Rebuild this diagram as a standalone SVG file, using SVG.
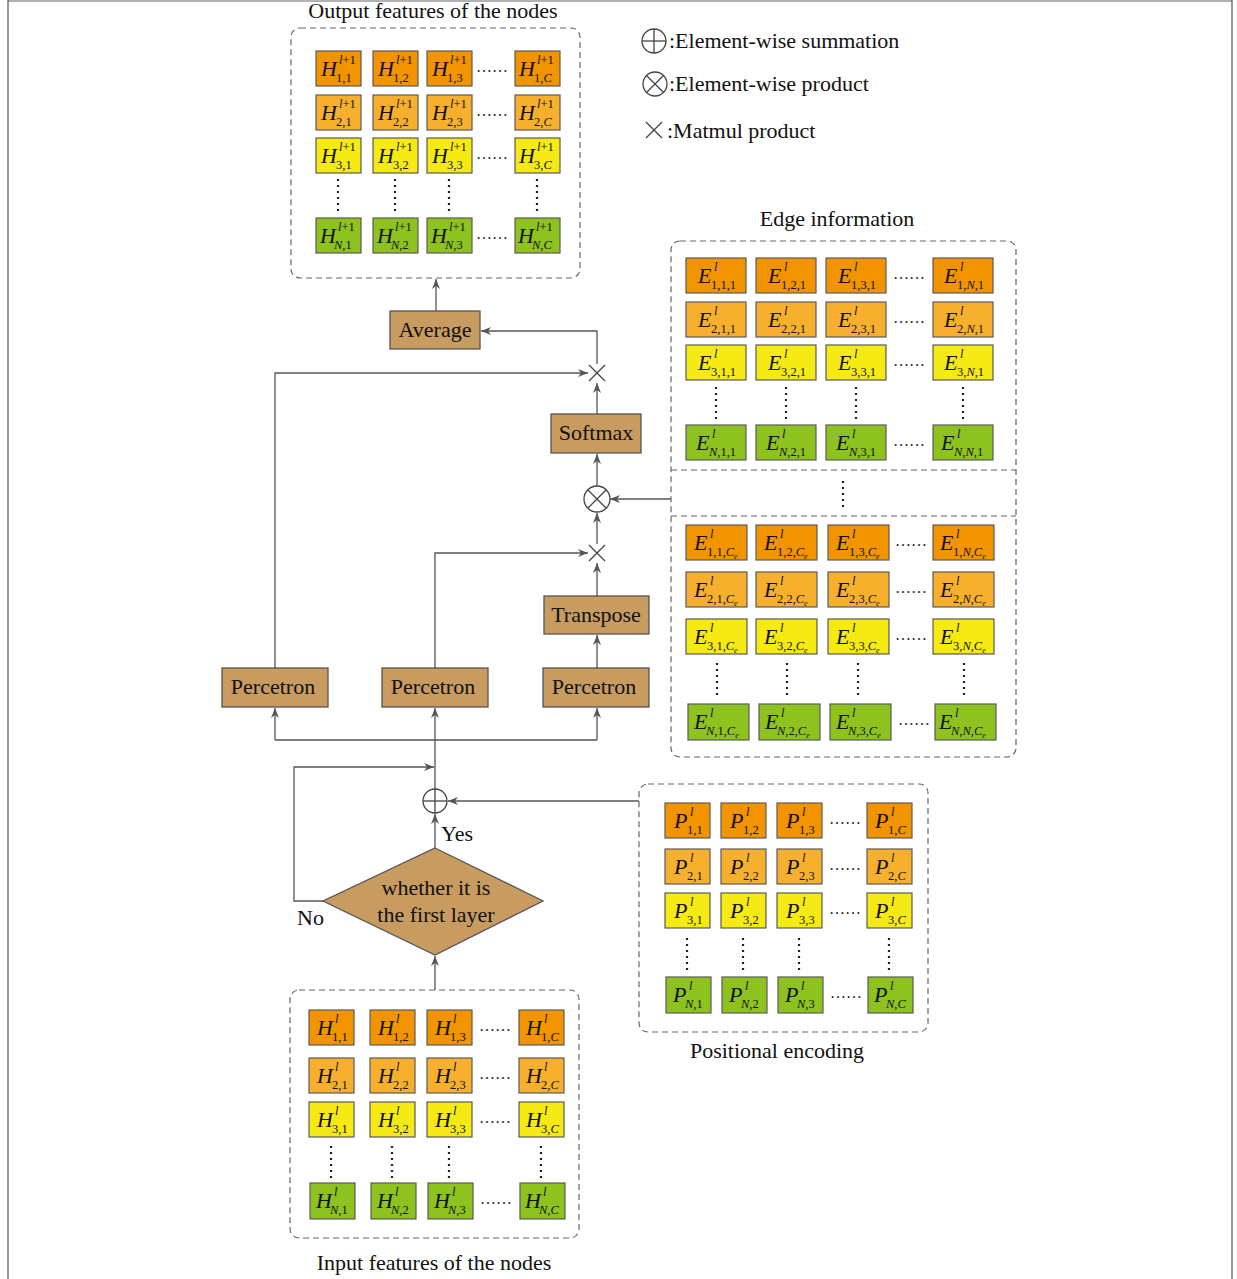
<svg xmlns="http://www.w3.org/2000/svg" width="1237" height="1279" viewBox="0 0 1237 1279">
<defs>
<marker id="ah" markerUnits="userSpaceOnUse" markerWidth="11" markerHeight="8" refX="10" refY="4" orient="auto">
<path d="M0,0 L10,4 L0,8 L3,4 Z" fill="#555"/>
</marker>
<style>
.cell{stroke:#5a5a5a;stroke-width:1.2}
.c1{fill:#F29400}.c2{fill:#F7B02E}.c3{fill:#F5EA14}.c4{fill:#8DC21F}
.lab{font-family:"Liberation Serif",serif;font-size:22px;fill:#111}
.it{font-style:italic}
.sm{font-size:12.5px}
.xs{font-size:8px}
.txt{font-family:"Liberation Serif",serif;font-size:22px;fill:#111}
.btxt{font-family:"Liberation Serif",serif;font-size:22px;fill:#111;text-anchor:middle}
.box{fill:#C89B60;stroke:#555;stroke-width:1.3}
.dash{fill:none;stroke:#666;stroke-width:1.2;stroke-dasharray:6 4}
.ln{fill:none;stroke:#555;stroke-width:1.3}
.arr{marker-end:url(#ah)}
.vd{stroke:#222;stroke-width:2.2;stroke-dasharray:2 4}
.ell{font-family:"Liberation Serif",serif;font-size:16px;fill:#222;text-anchor:middle}
.sym{fill:#fff;stroke:#444;stroke-width:1.3}
.symx{stroke:#444;stroke-width:1.3}
</style>
</defs>
<rect width="1237" height="1279" fill="#fff"/>
<g id="frame">
<line x1="8" y1="1" x2="1232" y2="1" stroke="#999" stroke-width="1.5"/>
<line x1="8" y1="0" x2="8" y2="1279" stroke="#555" stroke-width="1.2"/>
<line x1="1232" y1="0" x2="1232" y2="1279" stroke="#555" stroke-width="1.2"/>
</g>

<g id="legend">
<circle class="sym" cx="654" cy="41" r="12"/><line class="symx" x1="642" y1="41" x2="666" y2="41"/><line class="symx" x1="654" y1="29" x2="654" y2="53"/>
<text class="txt" x="669" y="48">:Element-wise summation</text>
<circle class="sym" cx="655" cy="84" r="12"/><line class="symx" x1="646.5" y1="75.5" x2="663.5" y2="92.5"/><line class="symx" x1="663.5" y1="75.5" x2="646.5" y2="92.5"/>
<text class="txt" x="669" y="91">:Element-wise product</text>
<line class="symx" x1="646" y1="122" x2="662" y2="138"/><line class="symx" x1="662" y1="122" x2="646" y2="138"/>
<text class="txt" x="667" y="138">:Matmul product</text>
</g>

<g id="output-features">
<text class="txt" x="433" y="18" text-anchor="middle">Output features of the nodes</text>
<rect class="dash" x="291" y="28" width="289" height="250" rx="9"/>
<rect class="cell c1" x="316" y="51" width="45" height="35"/><text class="lab"><tspan class="it" x="321" y="76">H</tspan><tspan class="sm" x="339" y="64"><tspan class="it">l</tspan>+1</tspan><tspan class="sm" x="336" y="82">1,1</tspan></text>
<rect class="cell c1" x="373" y="51" width="45" height="35"/><text class="lab"><tspan class="it" x="378" y="76">H</tspan><tspan class="sm" x="396" y="64"><tspan class="it">l</tspan>+1</tspan><tspan class="sm" x="393" y="82">1,2</tspan></text>
<rect class="cell c1" x="427" y="51" width="45" height="35"/><text class="lab"><tspan class="it" x="432" y="76">H</tspan><tspan class="sm" x="450" y="64"><tspan class="it">l</tspan>+1</tspan><tspan class="sm" x="447" y="82">1,3</tspan></text>
<rect class="cell c1" x="515" y="51" width="45" height="35"/><text class="lab"><tspan class="it" x="519" y="76">H</tspan><tspan class="sm" x="537" y="64"><tspan class="it">l</tspan>+1</tspan><tspan class="sm" x="534" y="82">1,<tspan class="it">C</tspan></tspan></text>
<text class="ell" x="492" y="72">……</text>
<rect class="cell c2" x="316" y="95" width="45" height="35"/><text class="lab"><tspan class="it" x="321" y="120">H</tspan><tspan class="sm" x="339" y="108"><tspan class="it">l</tspan>+1</tspan><tspan class="sm" x="336" y="126">2,1</tspan></text>
<rect class="cell c2" x="373" y="95" width="45" height="35"/><text class="lab"><tspan class="it" x="378" y="120">H</tspan><tspan class="sm" x="396" y="108"><tspan class="it">l</tspan>+1</tspan><tspan class="sm" x="393" y="126">2,2</tspan></text>
<rect class="cell c2" x="427" y="95" width="45" height="35"/><text class="lab"><tspan class="it" x="432" y="120">H</tspan><tspan class="sm" x="450" y="108"><tspan class="it">l</tspan>+1</tspan><tspan class="sm" x="447" y="126">2,3</tspan></text>
<rect class="cell c2" x="515" y="95" width="45" height="35"/><text class="lab"><tspan class="it" x="519" y="120">H</tspan><tspan class="sm" x="537" y="108"><tspan class="it">l</tspan>+1</tspan><tspan class="sm" x="534" y="126">2,<tspan class="it">C</tspan></tspan></text>
<text class="ell" x="492" y="116">……</text>
<rect class="cell c3" x="316" y="138" width="45" height="35"/><text class="lab"><tspan class="it" x="321" y="163">H</tspan><tspan class="sm" x="339" y="151"><tspan class="it">l</tspan>+1</tspan><tspan class="sm" x="336" y="169">3,1</tspan></text>
<rect class="cell c3" x="373" y="138" width="45" height="35"/><text class="lab"><tspan class="it" x="378" y="163">H</tspan><tspan class="sm" x="396" y="151"><tspan class="it">l</tspan>+1</tspan><tspan class="sm" x="393" y="169">3,2</tspan></text>
<rect class="cell c3" x="427" y="138" width="45" height="35"/><text class="lab"><tspan class="it" x="432" y="163">H</tspan><tspan class="sm" x="450" y="151"><tspan class="it">l</tspan>+1</tspan><tspan class="sm" x="447" y="169">3,3</tspan></text>
<rect class="cell c3" x="515" y="138" width="45" height="35"/><text class="lab"><tspan class="it" x="519" y="163">H</tspan><tspan class="sm" x="537" y="151"><tspan class="it">l</tspan>+1</tspan><tspan class="sm" x="534" y="169">3,<tspan class="it">C</tspan></tspan></text>
<text class="ell" x="492" y="159">……</text>
<line class="vd" x1="338" y1="179" x2="338" y2="211"/><line class="vd" x1="395" y1="179" x2="395" y2="211"/><line class="vd" x1="449" y1="179" x2="449" y2="211"/><line class="vd" x1="537" y1="179" x2="537" y2="211"/>
<rect class="cell c4" x="316" y="218" width="45" height="35"/><text class="lab"><tspan class="it" x="320" y="243">H</tspan><tspan class="sm" x="338" y="231"><tspan class="it">l</tspan>+1</tspan><tspan class="sm" x="334" y="249"><tspan class="it">N</tspan>,1</tspan></text>
<rect class="cell c4" x="373" y="218" width="45" height="35"/><text class="lab"><tspan class="it" x="377" y="243">H</tspan><tspan class="sm" x="395" y="231"><tspan class="it">l</tspan>+1</tspan><tspan class="sm" x="391" y="249"><tspan class="it">N</tspan>,2</tspan></text>
<rect class="cell c4" x="427" y="218" width="45" height="35"/><text class="lab"><tspan class="it" x="431" y="243">H</tspan><tspan class="sm" x="449" y="231"><tspan class="it">l</tspan>+1</tspan><tspan class="sm" x="445" y="249"><tspan class="it">N</tspan>,3</tspan></text>
<rect class="cell c4" x="515" y="218" width="45" height="35"/><text class="lab"><tspan class="it" x="518" y="243">H</tspan><tspan class="sm" x="536" y="231"><tspan class="it">l</tspan>+1</tspan><tspan class="sm" x="532" y="249"><tspan class="it">N</tspan>,<tspan class="it">C</tspan></tspan></text>
<text class="ell" x="492" y="239">……</text>
</g>

<g id="edge-information">
<text class="txt" x="837" y="226" text-anchor="middle">Edge information</text>
<rect class="dash" x="671" y="241" width="345" height="516" rx="9"/>
<line class="dash" x1="671" y1="470" x2="1016" y2="470"/>
<line class="dash" x1="671" y1="516" x2="1016" y2="516"/>
<line class="vd" x1="843" y1="481" x2="843" y2="511"/>
<rect class="cell c1" x="686" y="258" width="60" height="35"/><text class="lab"><tspan class="it" x="698" y="283">E</tspan><tspan class="sm it" x="714" y="271">l</tspan><tspan class="sm" x="711" y="289">1,1,1</tspan></text>
<rect class="cell c1" x="756" y="258" width="60" height="35"/><text class="lab"><tspan class="it" x="768" y="283">E</tspan><tspan class="sm it" x="784" y="271">l</tspan><tspan class="sm" x="781" y="289">1,2,1</tspan></text>
<rect class="cell c1" x="826" y="258" width="60" height="35"/><text class="lab"><tspan class="it" x="838" y="283">E</tspan><tspan class="sm it" x="854" y="271">l</tspan><tspan class="sm" x="851" y="289">1,3,1</tspan></text>
<rect class="cell c1" x="933" y="258" width="60" height="35"/><text class="lab"><tspan class="it" x="944" y="283">E</tspan><tspan class="sm it" x="960" y="271">l</tspan><tspan class="sm" x="957" y="289">1,<tspan class="it">N</tspan>,1</tspan></text>
<text class="ell" x="909" y="279">……</text>
<rect class="cell c2" x="686" y="302" width="60" height="35"/><text class="lab"><tspan class="it" x="698" y="327">E</tspan><tspan class="sm it" x="714" y="315">l</tspan><tspan class="sm" x="711" y="333">2,1,1</tspan></text>
<rect class="cell c2" x="756" y="302" width="60" height="35"/><text class="lab"><tspan class="it" x="768" y="327">E</tspan><tspan class="sm it" x="784" y="315">l</tspan><tspan class="sm" x="781" y="333">2,2,1</tspan></text>
<rect class="cell c2" x="826" y="302" width="60" height="35"/><text class="lab"><tspan class="it" x="838" y="327">E</tspan><tspan class="sm it" x="854" y="315">l</tspan><tspan class="sm" x="851" y="333">2,3,1</tspan></text>
<rect class="cell c2" x="933" y="302" width="60" height="35"/><text class="lab"><tspan class="it" x="944" y="327">E</tspan><tspan class="sm it" x="960" y="315">l</tspan><tspan class="sm" x="957" y="333">2,<tspan class="it">N</tspan>,1</tspan></text>
<text class="ell" x="909" y="323">……</text>
<rect class="cell c3" x="686" y="345" width="60" height="35"/><text class="lab"><tspan class="it" x="698" y="370">E</tspan><tspan class="sm it" x="714" y="358">l</tspan><tspan class="sm" x="711" y="376">3,1,1</tspan></text>
<rect class="cell c3" x="756" y="345" width="60" height="35"/><text class="lab"><tspan class="it" x="768" y="370">E</tspan><tspan class="sm it" x="784" y="358">l</tspan><tspan class="sm" x="781" y="376">3,2,1</tspan></text>
<rect class="cell c3" x="826" y="345" width="60" height="35"/><text class="lab"><tspan class="it" x="838" y="370">E</tspan><tspan class="sm it" x="854" y="358">l</tspan><tspan class="sm" x="851" y="376">3,3,1</tspan></text>
<rect class="cell c3" x="933" y="345" width="60" height="35"/><text class="lab"><tspan class="it" x="944" y="370">E</tspan><tspan class="sm it" x="960" y="358">l</tspan><tspan class="sm" x="957" y="376">3,<tspan class="it">N</tspan>,1</tspan></text>
<text class="ell" x="909" y="366">……</text>
<line class="vd" x1="716" y1="387" x2="716" y2="419"/><line class="vd" x1="786" y1="387" x2="786" y2="419"/><line class="vd" x1="856" y1="387" x2="856" y2="419"/><line class="vd" x1="963" y1="387" x2="963" y2="419"/>
<rect class="cell c4" x="686" y="425" width="60" height="35"/><text class="lab"><tspan class="it" x="696" y="450">E</tspan><tspan class="sm it" x="712" y="438">l</tspan><tspan class="sm" x="709" y="456"><tspan class="it">N</tspan>,1,1</tspan></text>
<rect class="cell c4" x="756" y="425" width="60" height="35"/><text class="lab"><tspan class="it" x="766" y="450">E</tspan><tspan class="sm it" x="782" y="438">l</tspan><tspan class="sm" x="779" y="456"><tspan class="it">N</tspan>,2,1</tspan></text>
<rect class="cell c4" x="826" y="425" width="60" height="35"/><text class="lab"><tspan class="it" x="836" y="450">E</tspan><tspan class="sm it" x="852" y="438">l</tspan><tspan class="sm" x="849" y="456"><tspan class="it">N</tspan>,3,1</tspan></text>
<rect class="cell c4" x="933" y="425" width="60" height="35"/><text class="lab"><tspan class="it" x="941" y="450">E</tspan><tspan class="sm it" x="957" y="438">l</tspan><tspan class="sm" x="954" y="456"><tspan class="it">N</tspan>,<tspan class="it">N</tspan>,1</tspan></text>
<text class="ell" x="909" y="446">……</text>

<rect class="cell c1" x="686" y="525" width="61" height="35"/><text class="lab"><tspan class="it" x="694" y="550">E</tspan><tspan class="sm it" x="710" y="538">l</tspan><tspan class="sm" x="707" y="556">1,1,<tspan class="it">C</tspan><tspan class="xs it" dy="3">e</tspan></tspan></text>
<rect class="cell c1" x="756" y="525" width="61" height="35"/><text class="lab"><tspan class="it" x="764" y="550">E</tspan><tspan class="sm it" x="780" y="538">l</tspan><tspan class="sm" x="777" y="556">1,2,<tspan class="it">C</tspan><tspan class="xs it" dy="3">e</tspan></tspan></text>
<rect class="cell c1" x="828" y="525" width="61" height="35"/><text class="lab"><tspan class="it" x="836" y="550">E</tspan><tspan class="sm it" x="852" y="538">l</tspan><tspan class="sm" x="849" y="556">1,3,<tspan class="it">C</tspan><tspan class="xs it" dy="3">e</tspan></tspan></text>
<rect class="cell c1" x="933" y="525" width="61" height="35"/><text class="lab"><tspan class="it" x="940" y="550">E</tspan><tspan class="sm it" x="956" y="538">l</tspan><tspan class="sm" x="953" y="556">1,<tspan class="it">N</tspan>,<tspan class="it">C</tspan><tspan class="xs it" dy="3">e</tspan></tspan></text>
<text class="ell" x="911" y="546">……</text>
<rect class="cell c2" x="686" y="572" width="61" height="35"/><text class="lab"><tspan class="it" x="694" y="597">E</tspan><tspan class="sm it" x="710" y="585">l</tspan><tspan class="sm" x="707" y="603">2,1,<tspan class="it">C</tspan><tspan class="xs it" dy="3">e</tspan></tspan></text>
<rect class="cell c2" x="756" y="572" width="61" height="35"/><text class="lab"><tspan class="it" x="764" y="597">E</tspan><tspan class="sm it" x="780" y="585">l</tspan><tspan class="sm" x="777" y="603">2,2,<tspan class="it">C</tspan><tspan class="xs it" dy="3">e</tspan></tspan></text>
<rect class="cell c2" x="828" y="572" width="61" height="35"/><text class="lab"><tspan class="it" x="836" y="597">E</tspan><tspan class="sm it" x="852" y="585">l</tspan><tspan class="sm" x="849" y="603">2,3,<tspan class="it">C</tspan><tspan class="xs it" dy="3">e</tspan></tspan></text>
<rect class="cell c2" x="933" y="572" width="61" height="35"/><text class="lab"><tspan class="it" x="940" y="597">E</tspan><tspan class="sm it" x="956" y="585">l</tspan><tspan class="sm" x="953" y="603">2,<tspan class="it">N</tspan>,<tspan class="it">C</tspan><tspan class="xs it" dy="3">e</tspan></tspan></text>
<text class="ell" x="911" y="593">……</text>
<rect class="cell c3" x="686" y="619" width="61" height="35"/><text class="lab"><tspan class="it" x="694" y="644">E</tspan><tspan class="sm it" x="710" y="632">l</tspan><tspan class="sm" x="707" y="650">3,1,<tspan class="it">C</tspan><tspan class="xs it" dy="3">e</tspan></tspan></text>
<rect class="cell c3" x="756" y="619" width="61" height="35"/><text class="lab"><tspan class="it" x="764" y="644">E</tspan><tspan class="sm it" x="780" y="632">l</tspan><tspan class="sm" x="777" y="650">3,2,<tspan class="it">C</tspan><tspan class="xs it" dy="3">e</tspan></tspan></text>
<rect class="cell c3" x="828" y="619" width="61" height="35"/><text class="lab"><tspan class="it" x="836" y="644">E</tspan><tspan class="sm it" x="852" y="632">l</tspan><tspan class="sm" x="849" y="650">3,3,<tspan class="it">C</tspan><tspan class="xs it" dy="3">e</tspan></tspan></text>
<rect class="cell c3" x="933" y="619" width="61" height="35"/><text class="lab"><tspan class="it" x="940" y="644">E</tspan><tspan class="sm it" x="956" y="632">l</tspan><tspan class="sm" x="953" y="650">3,<tspan class="it">N</tspan>,<tspan class="it">C</tspan><tspan class="xs it" dy="3">e</tspan></tspan></text>
<text class="ell" x="911" y="640">……</text>
<line class="vd" x1="717" y1="663" x2="717" y2="695"/><line class="vd" x1="787" y1="663" x2="787" y2="695"/><line class="vd" x1="858" y1="663" x2="858" y2="695"/><line class="vd" x1="964" y1="663" x2="964" y2="695"/>
<rect class="cell c4" x="688" y="704" width="61" height="36"/><text class="lab"><tspan class="it" x="694" y="729">E</tspan><tspan class="sm it" x="710" y="717">l</tspan><tspan class="sm" x="706" y="735"><tspan class="it">N</tspan>,1,<tspan class="it">C</tspan><tspan class="xs it" dy="3">e</tspan></tspan></text>
<rect class="cell c4" x="759" y="704" width="61" height="36"/><text class="lab"><tspan class="it" x="765" y="729">E</tspan><tspan class="sm it" x="781" y="717">l</tspan><tspan class="sm" x="777" y="735"><tspan class="it">N</tspan>,2,<tspan class="it">C</tspan><tspan class="xs it" dy="3">e</tspan></tspan></text>
<rect class="cell c4" x="830" y="704" width="61" height="36"/><text class="lab"><tspan class="it" x="836" y="729">E</tspan><tspan class="sm it" x="852" y="717">l</tspan><tspan class="sm" x="848" y="735"><tspan class="it">N</tspan>,3,<tspan class="it">C</tspan><tspan class="xs it" dy="3">e</tspan></tspan></text>
<rect class="cell c4" x="935" y="704" width="61" height="36"/><text class="lab"><tspan class="it" x="939" y="729">E</tspan><tspan class="sm it" x="955" y="717">l</tspan><tspan class="sm" x="951" y="735"><tspan class="it">N</tspan>,<tspan class="it">N</tspan>,<tspan class="it">C</tspan><tspan class="xs it" dy="3">e</tspan></tspan></text>
<text class="ell" x="914" y="725">……</text>
</g>

<g id="positional-encoding">
<rect class="dash" x="639" y="784" width="289" height="248" rx="9"/>
<text class="txt" x="777" y="1058" text-anchor="middle">Positional encoding</text>
<rect class="cell c1" x="665" y="803" width="45" height="35"/><text class="lab"><tspan class="it" x="674" y="828">P</tspan><tspan class="sm it" x="690" y="816">l</tspan><tspan class="sm" x="687" y="834">1,1</tspan></text>
<rect class="cell c1" x="721" y="803" width="45" height="35"/><text class="lab"><tspan class="it" x="730" y="828">P</tspan><tspan class="sm it" x="746" y="816">l</tspan><tspan class="sm" x="743" y="834">1,2</tspan></text>
<rect class="cell c1" x="777" y="803" width="45" height="35"/><text class="lab"><tspan class="it" x="786" y="828">P</tspan><tspan class="sm it" x="802" y="816">l</tspan><tspan class="sm" x="799" y="834">1,3</tspan></text>
<rect class="cell c1" x="867" y="803" width="45" height="35"/><text class="lab"><tspan class="it" x="875" y="828">P</tspan><tspan class="sm it" x="891" y="816">l</tspan><tspan class="sm" x="888" y="834">1,<tspan class="it">C</tspan></tspan></text>
<text class="ell" x="845" y="824">……</text>
<rect class="cell c2" x="665" y="849" width="45" height="35"/><text class="lab"><tspan class="it" x="674" y="874">P</tspan><tspan class="sm it" x="690" y="862">l</tspan><tspan class="sm" x="687" y="880">2,1</tspan></text>
<rect class="cell c2" x="721" y="849" width="45" height="35"/><text class="lab"><tspan class="it" x="730" y="874">P</tspan><tspan class="sm it" x="746" y="862">l</tspan><tspan class="sm" x="743" y="880">2,2</tspan></text>
<rect class="cell c2" x="777" y="849" width="45" height="35"/><text class="lab"><tspan class="it" x="786" y="874">P</tspan><tspan class="sm it" x="802" y="862">l</tspan><tspan class="sm" x="799" y="880">2,3</tspan></text>
<rect class="cell c2" x="867" y="849" width="45" height="35"/><text class="lab"><tspan class="it" x="875" y="874">P</tspan><tspan class="sm it" x="891" y="862">l</tspan><tspan class="sm" x="888" y="880">2,<tspan class="it">C</tspan></tspan></text>
<text class="ell" x="845" y="870">……</text>
<rect class="cell c3" x="665" y="893" width="45" height="35"/><text class="lab"><tspan class="it" x="674" y="918">P</tspan><tspan class="sm it" x="690" y="906">l</tspan><tspan class="sm" x="687" y="924">3,1</tspan></text>
<rect class="cell c3" x="721" y="893" width="45" height="35"/><text class="lab"><tspan class="it" x="730" y="918">P</tspan><tspan class="sm it" x="746" y="906">l</tspan><tspan class="sm" x="743" y="924">3,2</tspan></text>
<rect class="cell c3" x="777" y="893" width="45" height="35"/><text class="lab"><tspan class="it" x="786" y="918">P</tspan><tspan class="sm it" x="802" y="906">l</tspan><tspan class="sm" x="799" y="924">3,3</tspan></text>
<rect class="cell c3" x="867" y="893" width="45" height="35"/><text class="lab"><tspan class="it" x="875" y="918">P</tspan><tspan class="sm it" x="891" y="906">l</tspan><tspan class="sm" x="888" y="924">3,<tspan class="it">C</tspan></tspan></text>
<text class="ell" x="845" y="914">……</text>
<line class="vd" x1="687" y1="938" x2="687" y2="970"/><line class="vd" x1="743" y1="938" x2="743" y2="970"/><line class="vd" x1="799" y1="938" x2="799" y2="970"/><line class="vd" x1="889" y1="938" x2="889" y2="970"/>
<rect class="cell c4" x="666" y="977" width="45" height="36"/><text class="lab"><tspan class="it" x="673" y="1002">P</tspan><tspan class="sm it" x="689" y="990">l</tspan><tspan class="sm" x="685" y="1008"><tspan class="it">N</tspan>,1</tspan></text>
<rect class="cell c4" x="722" y="977" width="45" height="36"/><text class="lab"><tspan class="it" x="729" y="1002">P</tspan><tspan class="sm it" x="745" y="990">l</tspan><tspan class="sm" x="741" y="1008"><tspan class="it">N</tspan>,2</tspan></text>
<rect class="cell c4" x="778" y="977" width="45" height="36"/><text class="lab"><tspan class="it" x="785" y="1002">P</tspan><tspan class="sm it" x="801" y="990">l</tspan><tspan class="sm" x="797" y="1008"><tspan class="it">N</tspan>,3</tspan></text>
<rect class="cell c4" x="868" y="977" width="45" height="36"/><text class="lab"><tspan class="it" x="874" y="1002">P</tspan><tspan class="sm it" x="890" y="990">l</tspan><tspan class="sm" x="886" y="1008"><tspan class="it">N</tspan>,<tspan class="it">C</tspan></tspan></text>
<text class="ell" x="846" y="998">……</text>
</g>

<g id="input-features">
<rect class="dash" x="290" y="990" width="289" height="248" rx="9"/>
<text class="txt" x="434" y="1270" text-anchor="middle">Input features of the nodes</text>
<rect class="cell c1" x="309" y="1010" width="45" height="35"/><text class="lab"><tspan class="it" x="317" y="1035">H</tspan><tspan class="sm it" x="335" y="1023">l</tspan><tspan class="sm" x="332" y="1041">1,1</tspan></text>
<rect class="cell c1" x="370" y="1010" width="45" height="35"/><text class="lab"><tspan class="it" x="378" y="1035">H</tspan><tspan class="sm it" x="396" y="1023">l</tspan><tspan class="sm" x="393" y="1041">1,2</tspan></text>
<rect class="cell c1" x="427" y="1010" width="45" height="35"/><text class="lab"><tspan class="it" x="435" y="1035">H</tspan><tspan class="sm it" x="453" y="1023">l</tspan><tspan class="sm" x="450" y="1041">1,3</tspan></text>
<rect class="cell c1" x="519" y="1010" width="45" height="35"/><text class="lab"><tspan class="it" x="526" y="1035">H</tspan><tspan class="sm it" x="544" y="1023">l</tspan><tspan class="sm" x="541" y="1041">1,<tspan class="it">C</tspan></tspan></text>
<text class="ell" x="495" y="1031">……</text>
<rect class="cell c2" x="309" y="1058" width="45" height="35"/><text class="lab"><tspan class="it" x="317" y="1083">H</tspan><tspan class="sm it" x="335" y="1071">l</tspan><tspan class="sm" x="332" y="1089">2,1</tspan></text>
<rect class="cell c2" x="370" y="1058" width="45" height="35"/><text class="lab"><tspan class="it" x="378" y="1083">H</tspan><tspan class="sm it" x="396" y="1071">l</tspan><tspan class="sm" x="393" y="1089">2,2</tspan></text>
<rect class="cell c2" x="427" y="1058" width="45" height="35"/><text class="lab"><tspan class="it" x="435" y="1083">H</tspan><tspan class="sm it" x="453" y="1071">l</tspan><tspan class="sm" x="450" y="1089">2,3</tspan></text>
<rect class="cell c2" x="519" y="1058" width="45" height="35"/><text class="lab"><tspan class="it" x="526" y="1083">H</tspan><tspan class="sm it" x="544" y="1071">l</tspan><tspan class="sm" x="541" y="1089">2,<tspan class="it">C</tspan></tspan></text>
<text class="ell" x="495" y="1079">……</text>
<rect class="cell c3" x="309" y="1102" width="45" height="35"/><text class="lab"><tspan class="it" x="317" y="1127">H</tspan><tspan class="sm it" x="335" y="1115">l</tspan><tspan class="sm" x="332" y="1133">3,1</tspan></text>
<rect class="cell c3" x="370" y="1102" width="45" height="35"/><text class="lab"><tspan class="it" x="378" y="1127">H</tspan><tspan class="sm it" x="396" y="1115">l</tspan><tspan class="sm" x="393" y="1133">3,2</tspan></text>
<rect class="cell c3" x="427" y="1102" width="45" height="35"/><text class="lab"><tspan class="it" x="435" y="1127">H</tspan><tspan class="sm it" x="453" y="1115">l</tspan><tspan class="sm" x="450" y="1133">3,3</tspan></text>
<rect class="cell c3" x="519" y="1102" width="45" height="35"/><text class="lab"><tspan class="it" x="526" y="1127">H</tspan><tspan class="sm it" x="544" y="1115">l</tspan><tspan class="sm" x="541" y="1133">3,<tspan class="it">C</tspan></tspan></text>
<text class="ell" x="495" y="1123">……</text>
<line class="vd" x1="331" y1="1146" x2="331" y2="1178"/><line class="vd" x1="392" y1="1146" x2="392" y2="1178"/><line class="vd" x1="449" y1="1146" x2="449" y2="1178"/><line class="vd" x1="541" y1="1146" x2="541" y2="1178"/>
<rect class="cell c4" x="310" y="1183" width="45" height="36"/><text class="lab"><tspan class="it" x="316" y="1208">H</tspan><tspan class="sm it" x="334" y="1196">l</tspan><tspan class="sm" x="330" y="1214"><tspan class="it">N</tspan>,1</tspan></text>
<rect class="cell c4" x="371" y="1183" width="45" height="36"/><text class="lab"><tspan class="it" x="377" y="1208">H</tspan><tspan class="sm it" x="395" y="1196">l</tspan><tspan class="sm" x="391" y="1214"><tspan class="it">N</tspan>,2</tspan></text>
<rect class="cell c4" x="428" y="1183" width="45" height="36"/><text class="lab"><tspan class="it" x="434" y="1208">H</tspan><tspan class="sm it" x="452" y="1196">l</tspan><tspan class="sm" x="448" y="1214"><tspan class="it">N</tspan>,3</tspan></text>
<rect class="cell c4" x="520" y="1183" width="45" height="36"/><text class="lab"><tspan class="it" x="525" y="1208">H</tspan><tspan class="sm it" x="543" y="1196">l</tspan><tspan class="sm" x="539" y="1214"><tspan class="it">N</tspan>,<tspan class="it">C</tspan></tspan></text>
<text class="ell" x="496" y="1204">……</text>
</g>

<g id="connectors">
<path class="ln arr" d="M436,311 V279"/>
<path class="ln arr" d="M597,364 V331 H481"/>
<path class="ln arr" d="M275,668 V373 H588"/>
<path class="ln arr" d="M597,414 V383"/>
<path class="ln arr" d="M597,486 V454"/>
<path class="ln arr" d="M671,499 H610"/>
<path class="ln arr" d="M597,544 V513"/>
<path class="ln arr" d="M435,668 V553 H588"/>
<path class="ln arr" d="M597,596 V563"/>
<path class="ln arr" d="M597,668 V635"/>
<path class="ln arr" d="M435,789 V708"/>
<path class="ln" d="M275,740 H597"/>
<path class="ln arr" d="M275,740 V708"/>
<path class="ln arr" d="M597,740 V708"/>
<path class="ln arr" d="M435,848 V814"/>
<path class="ln arr" d="M639,801 H448"/>
<path class="ln arr" d="M323,901 H294 V767 H434"/>
<path class="ln arr" d="M435,990 V956"/>
</g>

<g id="average"><rect class="box" x="390" y="311" width="90" height="38"/><text class="btxt" x="435" y="337">Average</text></g>
<g id="matmul-upper"><line class="symx" x1="589" y1="365" x2="605" y2="381"/><line class="symx" x1="605" y1="365" x2="589" y2="381"/></g>
<g id="softmax"><rect class="box" x="551" y="414" width="90" height="39"/><text class="btxt" x="596" y="440">Softmax</text></g>
<g id="elementwise-product"><circle class="sym" cx="597" cy="499" r="13"/><line class="symx" x1="588" y1="490" x2="606" y2="508"/><line class="symx" x1="606" y1="490" x2="588" y2="508"/></g>
<g id="matmul-lower"><line class="symx" x1="589" y1="545" x2="605" y2="561"/><line class="symx" x1="605" y1="545" x2="589" y2="561"/></g>
<g id="transpose"><rect class="box" x="544" y="596" width="105" height="38"/><text class="btxt" x="596" y="622">Transpose</text></g>
<g id="percetron-1"><rect class="box" x="222" y="668" width="106" height="39"/><text class="btxt" x="273" y="694">Percetron</text></g>
<g id="percetron-2"><rect class="box" x="382" y="668" width="106" height="39"/><text class="btxt" x="433" y="694">Percetron</text></g>
<g id="percetron-3"><rect class="box" x="543" y="668" width="106" height="39"/><text class="btxt" x="594" y="694">Percetron</text></g>
<g id="summation"><circle class="sym" cx="435" cy="801" r="12"/><line class="symx" x1="423" y1="801" x2="447" y2="801"/><line class="symx" x1="435" y1="789" x2="435" y2="813"/></g>
<g id="decision">
<polygon class="box" points="435,848 543,901 435,955 323,901" stroke-width="0.8"/>
<text class="btxt" x="436" y="895">whether it is</text>
<text class="btxt" x="436" y="922">the first layer</text>
</g>
<text class="txt" x="441" y="841">Yes</text>
<text class="txt" x="297" y="925">No</text>
</svg>
